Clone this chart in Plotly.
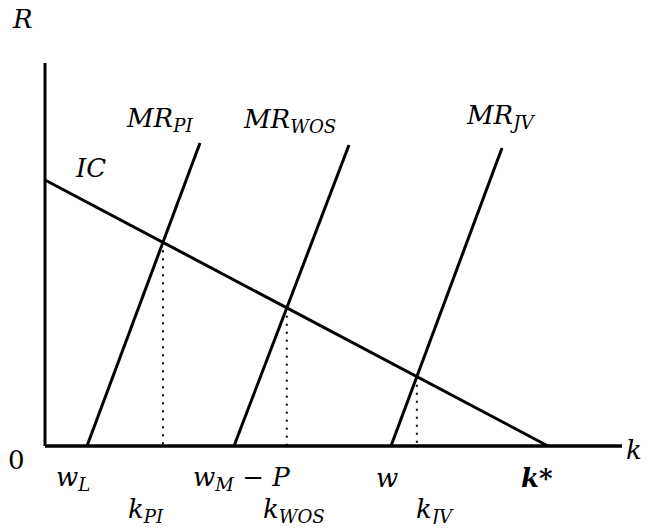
import plotly.graph_objects as go

# ---- data (diagram units) ----
k_star = 50.3          # IC hits the k axis
ic_intercept = 26.6    # IC hits the R axis
mr_names = ["PI", "WOS", "JV"]
mr_base = [4.2, 18.9, 34.6]      # w_L, w_M - P, w  (MR meets k axis)
mr_top_x = [15.5, 30.4, 45.7]
mr_top_y = [30.3, 30.1, 29.8]
r_axis_top = 38.3
k_axis_end = 57.7

FONT = "DejaVu Serif"
BLACK = "#000000"

fig = go.Figure()

# axes
fig.add_trace(go.Scatter(x=[0, 0], y=[r_axis_top, 0], mode="lines",
                         line=dict(color=BLACK, width=3), hoverinfo="skip"))
fig.add_trace(go.Scatter(x=[0, k_axis_end], y=[0, 0], mode="lines",
                         line=dict(color=BLACK, width=3.5), hoverinfo="skip"))

# IC line
fig.add_trace(go.Scatter(x=[0, k_star], y=[ic_intercept, 0], mode="lines",
                         line=dict(color=BLACK, width=3), hoverinfo="skip"))

# MR lines and intersections
for b, tx, ty in zip(mr_base, mr_top_x, mr_top_y):
    s = ty / (tx - b)
    xi = (ic_intercept + s * b) / (s + ic_intercept / k_star)
    yi = s * (xi - b)
    fig.add_trace(go.Scatter(x=[b, tx], y=[0, ty], mode="lines",
                             line=dict(color=BLACK, width=3), hoverinfo="skip"))
    fig.add_trace(go.Scatter(x=[xi, xi], y=[yi, 0], mode="lines",
                             line=dict(color=BLACK, width=2, dash="2px,6px"),
                             hoverinfo="skip"))

def lab(x, y, text, size=26, xanchor="center"):
    fig.add_annotation(x=x, y=y, text=text, showarrow=False,
                       font=dict(family=FONT, size=size, color=BLACK),
                       xanchor=xanchor, yanchor="middle")

lab(-2.3, 42.7, "<i>R</i>")
lab(-2.9, -1.4, "0")
lab(59.85, -0.4, "<i>k</i>", xanchor="right")
lab(4.5, 27.8, "<i>IC</i>")
lab(11.4, 32.7, "<i>MR</i><sub><i>PI</i></sub>")
lab(24.4, 32.6, "<i>MR</i><sub><i>WOS</i></sub>")
lab(45.5, 33.0, "<i>MR</i><sub><i>JV</i></sub>")

row1 = -3.2
lab(2.8, row1, "<i>w</i><sub><i>L</i></sub>")
lab(19.6, row1, "<i>w</i><sub><i>M</i></sub> − <i>P</i>")
lab(34.2, row1, "<i>w</i>")
lab(49.2, row1, "<b><i>k</i>*</b>")

row2 = -6.4
lab(10.1, row2, "<i>k</i><sub><i>PI</i></sub>")
lab(24.9, row2, "<i>k</i><sub><i>WOS</i></sub>")
lab(39.0, row2, "<i>k</i><sub><i>JV</i></sub>")

fig.update_layout(
    width=636, height=516,
    margin=dict(l=0, r=0, t=0, b=0),
    paper_bgcolor="white", plot_bgcolor="white",
    showlegend=False,
    xaxis=dict(range=[-3.7, 59.9], visible=False, fixedrange=True),
    yaxis=dict(range=[-7.8, 43.8], visible=False, fixedrange=True),
)

fig.write_html("out.html")
